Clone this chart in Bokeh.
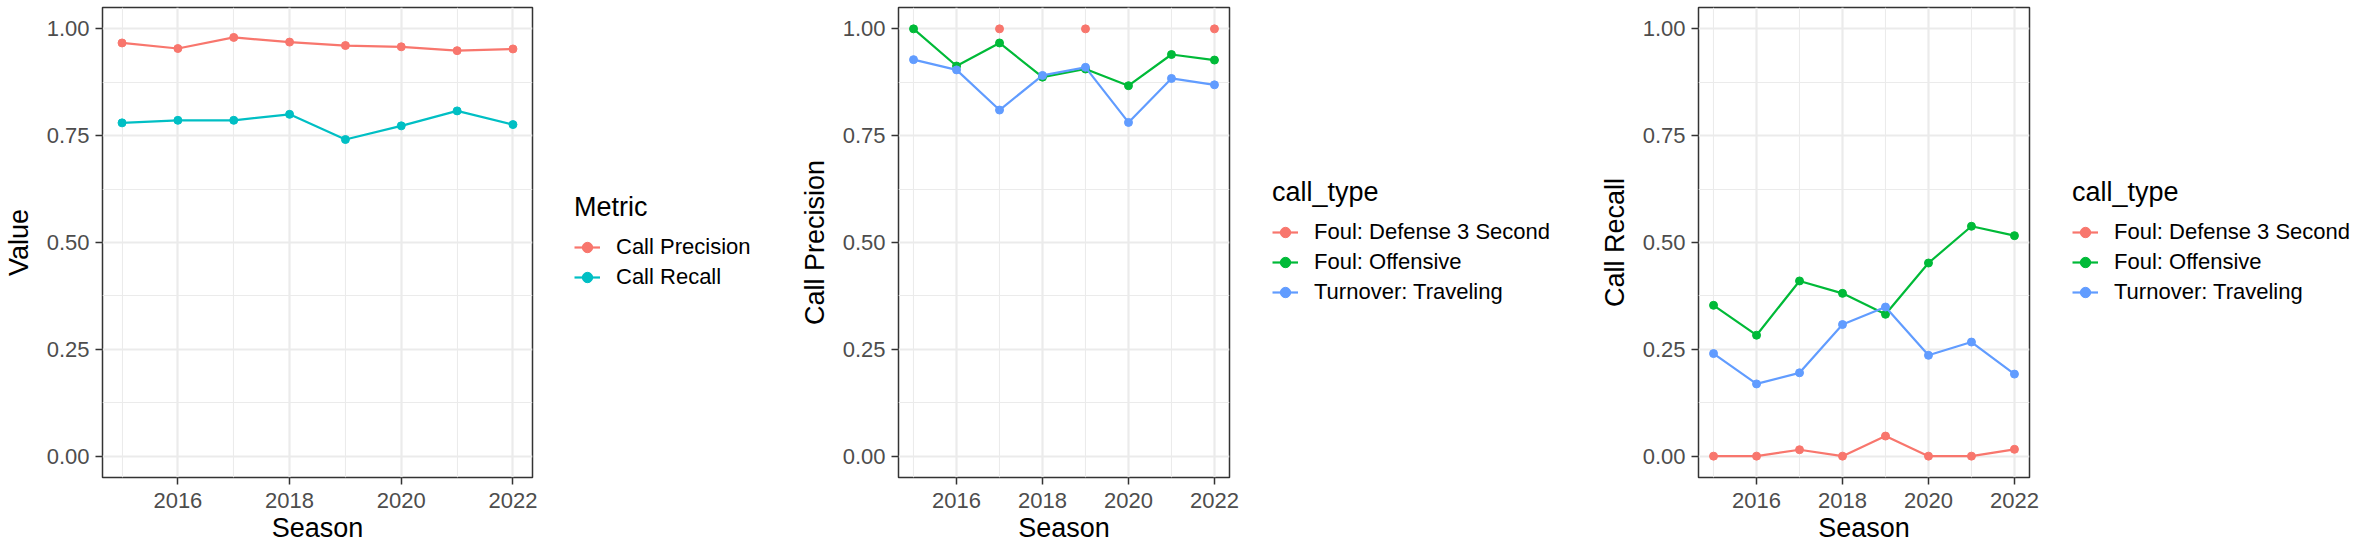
import math
from bokeh.plotting import figure
from bokeh.models import Range1d, FixedTicker, NumeralTickFormatter, Legend, LegendItem
from bokeh.layouts import row
from bokeh.embed import file_html
from bokeh.resources import INLINE

nan = float("nan")

seasons = [2015, 2016, 2017, 2018, 2019, 2020, 2021, 2022]

metric_names = ["Call Precision", "Call Recall"]
overall_precision = [0.967, 0.954, 0.980, 0.969, 0.961, 0.958, 0.949, 0.953]
overall_recall = [0.780, 0.786, 0.786, 0.800, 0.741, 0.773, 0.808, 0.776]

call_types = ["Foul: Defense 3 Second", "Foul: Offensive", "Turnover: Traveling"]
precision_def3 = [nan, nan, 1.0, nan, 1.0, nan, nan, 1.0]
precision_off = [1.0, 0.913, 0.967, 0.887, 0.906, 0.867, 0.940, 0.927]
precision_trav = [0.928, 0.904, 0.810, 0.891, 0.910, 0.781, 0.884, 0.869]

recall_def3 = [0.0, 0.0, 0.015, 0.0, 0.047, 0.0, 0.0, 0.016]
recall_off = [0.353, 0.283, 0.410, 0.381, 0.332, 0.452, 0.538, 0.516]
recall_trav = [0.240, 0.169, 0.195, 0.308, 0.349, 0.236, 0.267, 0.192]

y_ticks = [0.0, 0.25, 0.5, 0.75, 1.0]
y_minor = [0.125, 0.375, 0.625, 0.875]
x_ticks = [2016, 2018, 2020, 2022]
x_minor = [2015, 2017, 2019, 2021]

colors2 = ["#F8766D", "#00BFC4"]
colors3 = ["#F8766D", "#00BA38", "#619CFF"]

FONT = "Liberation Sans"
H = 545
TOP = 7
BOTTOM = 68
LEG_BOTTOM = 61
RB = 10
LW = 2.2
MS = 8


def make_panel(left, frame_w, ylabel, names, series, colors):
    p = figure(width=left + frame_w + RB, height=H, output_backend="svg", toolbar_location=None,
               x_range=Range1d(2014.65, 2022.35), y_range=Range1d(-0.05, 1.05),
               min_border_left=left, min_border_right=RB, min_border_top=TOP,
               min_border_bottom=BOTTOM)
    p.background_fill_color = "white"
    p.border_fill_color = "white"
    p.outline_line_color = "#333333"
    p.outline_line_width = 1.5

    p.xaxis.ticker = FixedTicker(ticks=x_ticks, minor_ticks=x_minor)
    p.yaxis.ticker = FixedTicker(ticks=y_ticks, minor_ticks=y_minor)
    p.xaxis.formatter = NumeralTickFormatter(format="0")
    p.yaxis.formatter = NumeralTickFormatter(format="0.00")

    for ax in (p.xaxis, p.yaxis):
        ax.axis_line_color = None
        ax.major_tick_line_color = "#333333"
        ax.major_tick_line_width = 1.5
        ax.major_tick_out = 7
        ax.major_tick_in = 0
        ax.minor_tick_line_color = None
        ax.major_label_text_font = FONT
        ax.major_label_text_font_size = "22px"
        ax.major_label_text_color = "#4D4D4D"
        ax.axis_label_text_font = FONT
        ax.axis_label_text_font_size = "27px"
        ax.axis_label_text_font_style = "normal"
        ax.axis_label_text_color = "black"
    p.xaxis.axis_label = "Season"
    p.yaxis.axis_label = ylabel
    p.xaxis.major_label_standoff = 8
    p.xaxis.axis_label_standoff = 2
    p.yaxis.major_label_standoff = 6
    p.yaxis.axis_label_standoff = 10

    for g in (p.xgrid, p.ygrid):
        g.grid_line_color = "#EBEBEB"
        g.grid_line_width = 2.2
        g.minor_grid_line_color = "#EBEBEB"
        g.minor_grid_line_width = 1.1

    for vals, col in zip(series, colors):
        p.line(seasons, vals, line_color=col, line_width=LW)
        p.scatter(seasons, vals, size=MS, fill_color=col, line_color=col)
    return p


def make_legend(width, offset, names, colors, legend_title):
    q = figure(width=width, height=H, output_backend="svg", toolbar_location=None,
               x_range=Range1d(0, 1), y_range=Range1d(0, 1),
               x_axis_type=None, y_axis_type=None,
               min_border_left=offset, min_border_right=0, min_border_top=TOP,
               min_border_bottom=LEG_BOTTOM)
    q.outline_line_color = None
    q.background_fill_color = "white"
    q.border_fill_color = "white"
    q.xgrid.visible = False
    q.ygrid.visible = False
    items = []
    for name, col in zip(names, colors):
        lr = q.line([-10, -9], [-10, -10], line_color=col, line_width=LW)
        sr = q.scatter([-10], [-10], size=MS, fill_color=col, line_color=col)
        items.append(LegendItem(label=name, renderers=[lr, sr]))
    leg = Legend(items=items, location="left", title=legend_title,
                 title_text_font=FONT, title_text_font_size="27px",
                 title_text_font_style="normal", title_text_color="black",
                 title_standoff=9,
                 label_text_font=FONT, label_text_font_size="22px", label_text_color="black",
                 glyph_width=26, glyph_height=30, label_height=30, label_standoff=16,
                 spacing=0, padding=0, margin=0,
                 border_line_color=None, background_fill_alpha=0)
    q.add_layout(leg)
    return q


p1 = make_panel(97, 435, "Value", metric_names, [overall_precision, overall_recall], colors2)
l1 = make_legend(248, 32, metric_names, colors2, "Metric")
p2 = make_panel(108, 331, "Call Precision", call_types,
                [precision_def3, precision_off, precision_trav], colors3)
l2 = make_legend(351, 33, call_types, colors3, "call_type")
p3 = make_panel(108, 331, "Call Recall", call_types,
                [recall_def3, recall_off, recall_trav], colors3)
l3 = make_legend(322, 33, call_types, colors3, "call_type")

layout = row(p1, l1, p2, l2, p3, l3)
open("out.html", "w").write(file_html(layout, INLINE))
